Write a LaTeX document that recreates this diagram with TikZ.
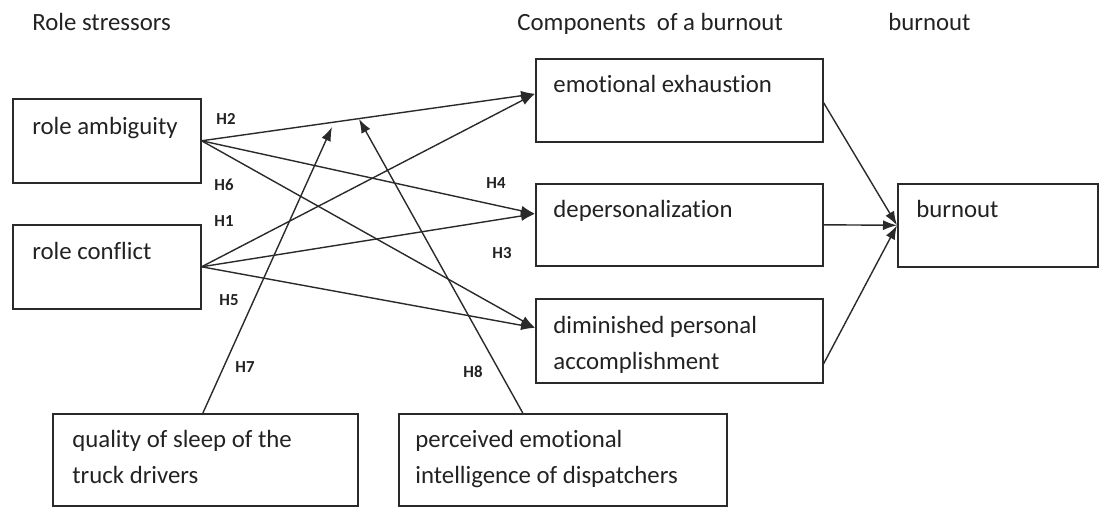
\documentclass[tikz,border=0pt]{standalone}
\usepackage{fontspec}
\setmainfont{Carlito}[Ligatures={NoCommon}]
\usetikzlibrary{arrows.meta}
\definecolor{ink}{HTML}{222222}
\definecolor{edge}{HTML}{2A2A2A}
\begin{document}
\begin{tikzpicture}[x=0.5pt,y=-0.5pt,
  box/.style={draw=edge,line width=0.8pt,inner sep=0pt,anchor=north west},
  txt/.style={anchor=base west,inner sep=0pt,text=ink,font=\fontsize{12.4}{18}\selectfont,align=left},
  hlab/.style={inner sep=0pt,text=ink,font=\fontsize{8.4}{9}\selectfont\bfseries},
  conn/.style={draw=edge,line width=0.7pt,-{Latex[length=7pt,width=5pt]}}]
\path[use as bounding box] (0,0) rectangle (1100,507);

% headers
\node[txt] (h1) at (32,31) {Role stressors};
\node[txt] (h2) at (517,31) {Components\ \ of a burnout};
\node[txt] (h3) at (888,31) {burnout};

% boxes
\node[box,minimum width=94pt,minimum height=42pt] (ra) at (12,98) {};
\node[box,minimum width=94pt,minimum height=42pt] (rc) at (12,224) {};
\node[box,minimum width=143.5pt,minimum height=41.5pt] (ee) at (535,58) {};
\node[box,minimum width=143.5pt,minimum height=41pt] (dp) at (535,183) {};
\node[box,minimum width=143.5pt,minimum height=42pt] (dm) at (535,298) {};
\node[box,minimum width=100pt,minimum height=41.5pt] (bo) at (897,183) {};
\node[box,minimum width=152.5pt,minimum height=46pt] (qs) at (52,413) {};
\node[box,minimum width=164pt,minimum height=46pt] (pe) at (398,413) {};

% box texts (multi-line: base = last line)
\node[txt] (raT) at (32,135) {role ambiguity};
\node[txt] (rcT) at (32,260) {role conflict};
\node[txt] (eeT) at (553,93) {emotional exhaustion};
\node[txt] (dpT) at (553,218) {depersonalization};
\node[txt] (dmT) at (553,370) {diminished personal\\accomplishment};
\node[txt] (boT) at (916,218) {burnout};
\node[txt] (qsT) at (72,484) {quality of sleep of the\\truck drivers};
\node[txt] (peT) at (415,484) {perceived emotional\\intelligence of dispatchers};

% connectors from role stressors
\draw[conn] (ra.east) -- ([yshift=3.25pt]ee.west);
\draw[conn] (ra.east) -- ([yshift=5.5pt]dp.west);
\draw[conn] (ra.east) -- ([yshift=6.5pt]dm.west);
\draw[conn] (rc.east) -- ([yshift=3.25pt]ee.west);
\draw[conn] (rc.east) -- ([yshift=5.5pt]dp.west);
\draw[conn] (rc.east) -- ([yshift=6.5pt]dm.west);

% moderators
\coordinate (m7) at (332,127);
\coordinate (m8) at (359,119);
\draw[conn] ([xshift=-1.2pt]qs.north) -- (m7);
\draw[conn] ([xshift=-20pt]pe.north) -- (m8);

% to burnout
\draw[conn] ([yshift=-1.2pt]ee.east) -- (bo.west);
\draw[conn] (dp.east) -- (bo.west);
\draw[conn] ([yshift=-11.5pt]dm.east) -- (bo.west);

% hypothesis labels
\node[hlab] (H2) at (226,119) {H2};
\node[hlab] (H6) at (224,185) {H6};
\node[hlab] (H1) at (224,221) {H1};
\node[hlab] (H5) at (229,300) {H5};
\node[hlab] (H4) at (496,183) {H4};
\node[hlab] (H3) at (502,253) {H3};
\node[hlab] (H7) at (245,367) {H7};
\node[hlab] (H8) at (473,372) {H8};
\end{tikzpicture}
\end{document}
